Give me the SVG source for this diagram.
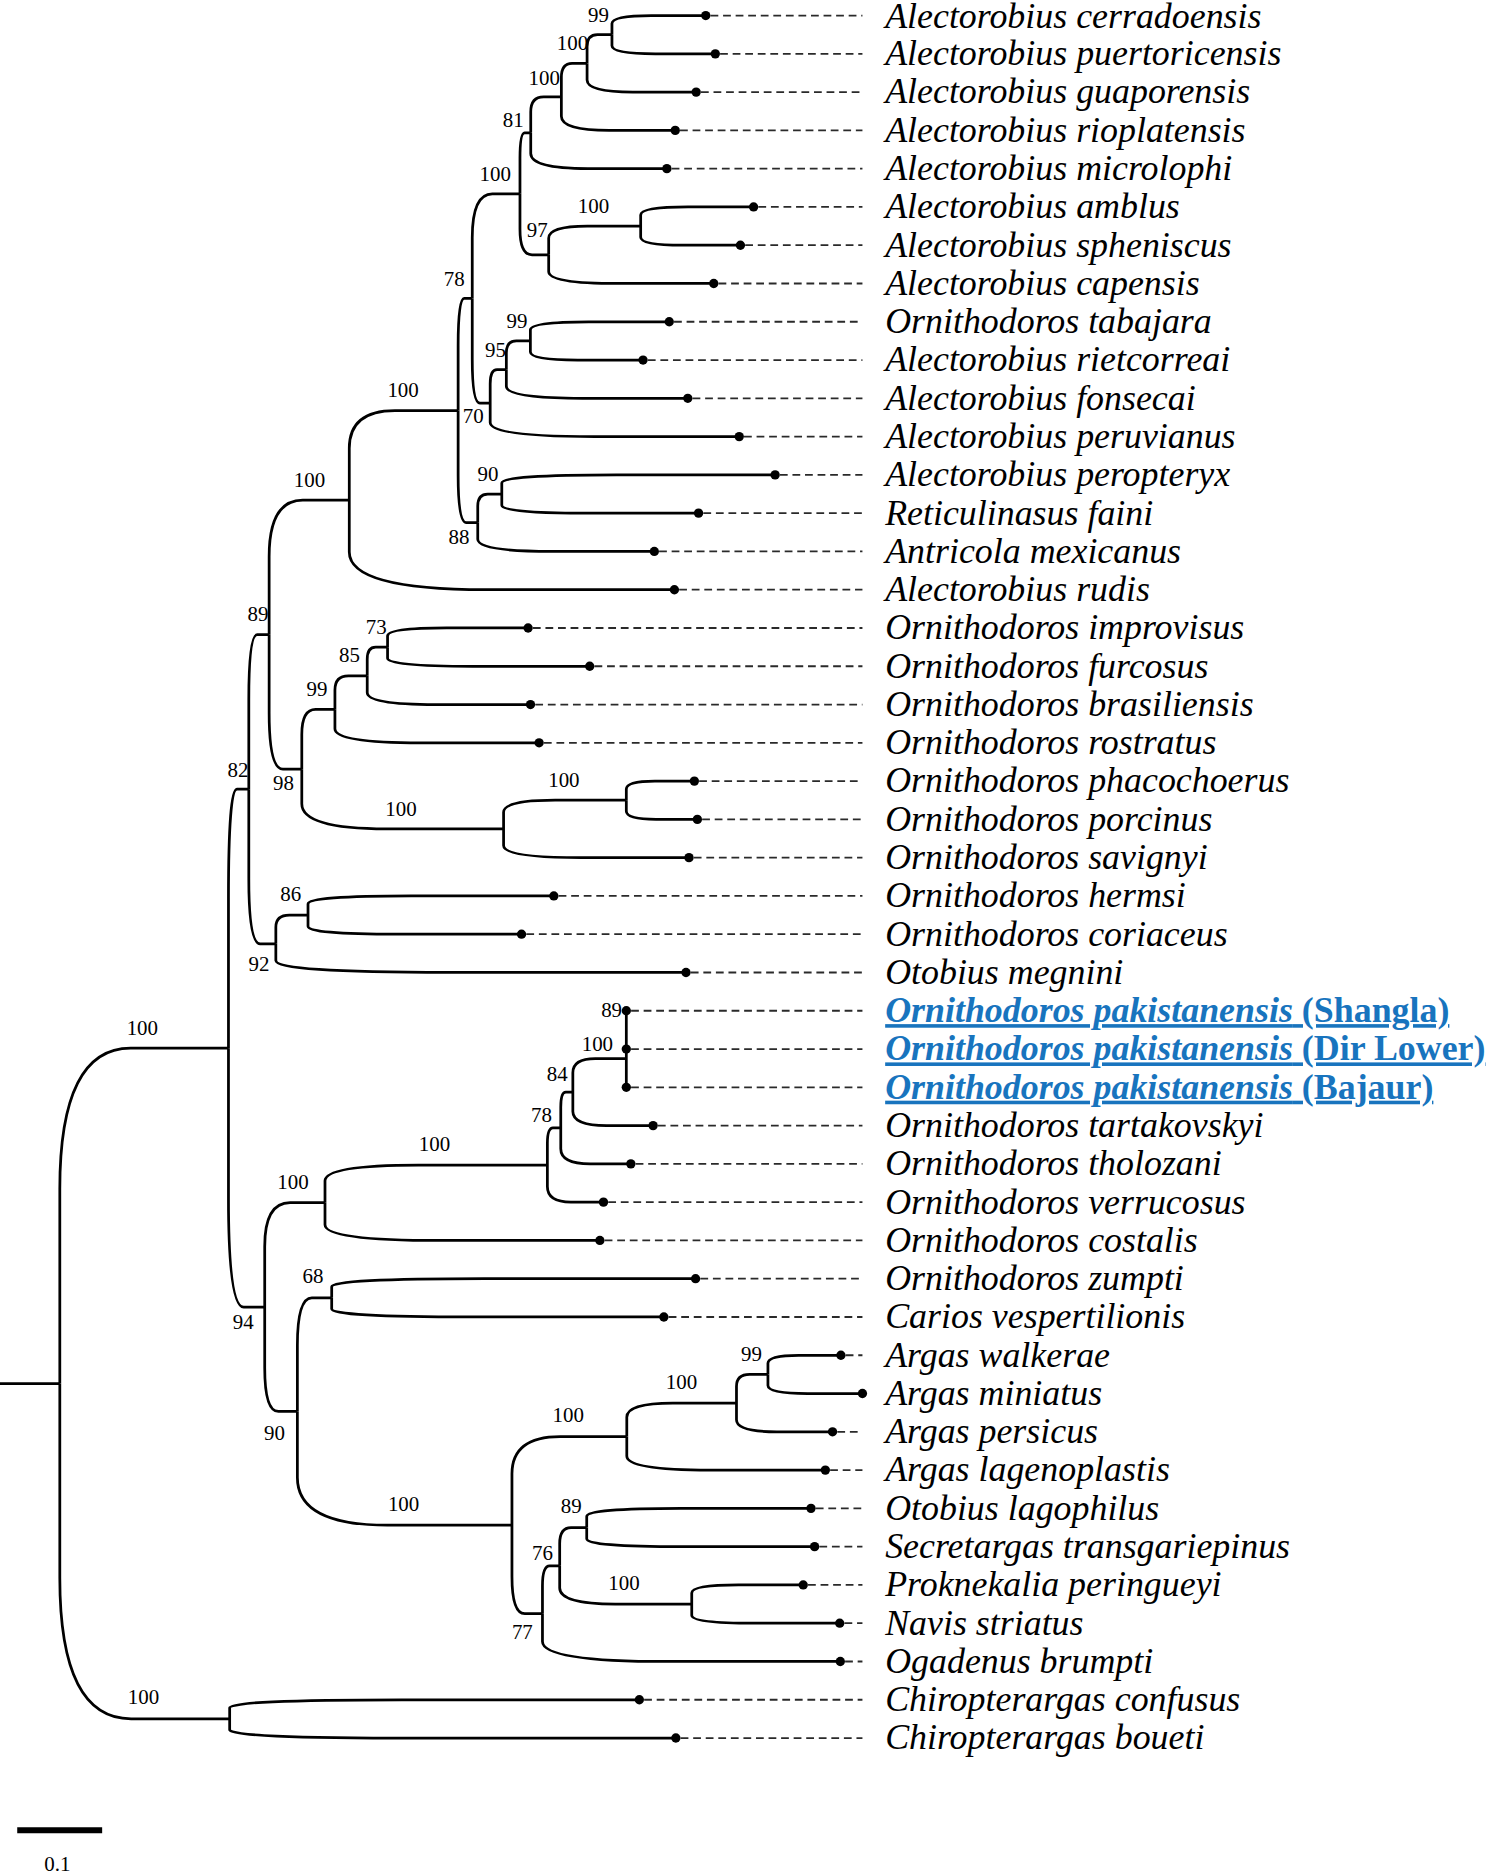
<svg xmlns="http://www.w3.org/2000/svg" width="1500" height="1874" viewBox="0 0 1500 1874">
<style>
.br{fill:none;stroke:#000;stroke-width:2.3;stroke-linecap:butt}
.dl{fill:none;stroke:#2a2a2a;stroke-width:1.5;stroke-dasharray:6.5 4}
.tip{fill:#000}
.lab{font-family:"Liberation Serif","Times New Roman",serif;font-style:italic;font-size:30px;fill:#000}
.pak{font-weight:bold;fill:#1874be;text-decoration:underline}
.up{font-style:normal}
.sup{font-family:"Liberation Serif","Times New Roman",serif;font-size:17.5px;text-anchor:middle;fill:#000}
</style>
<rect width="1500" height="1874" fill="#fff"/>
<g transform="scale(1.19617)">
<g id="branches" class="br">
<path d="M0 1156.65H50"/>
<path d="M50 1156.65V994Q50 876.3 109.2 876.3H191"/>
<path d="M50 1156.65V1319.3Q50 1437 109.6 1437H192"/>
<path d="M191 876.3V750.7Q191 659.8 198.1 659.8H208"/>
<path d="M191 876.3V1001.8Q191 1092.75 203.7 1092.75H221.3"/>
<path d="M192 1437V1427.7Q192 1421 335.9 1421H534.5"/>
<path d="M192 1437V1446.3Q192 1453 348.7 1453H565"/>
<path d="M208 659.8V584.8Q208 530.56 215.1 530.56H225"/>
<path d="M208 659.8V734.7Q208 789 217.5 789H230.6"/>
<path d="M225 530.56V465.3Q225 418.1 253.1 418.1H292"/>
<path d="M225 530.56V595.8Q225 643 236.5 643H252.3"/>
<path d="M292 418.1V374.7Q292 343.25 330.2 343.25H383"/>
<path d="M292 418.1V461.5Q292 493 406.2 493H563.8"/>
<path d="M383 343.25V288.9Q383 249.5 388 249.5H394.8"/>
<path d="M383 343.25V397.6Q383 437 389.9 437H399.4"/>
<path d="M394.8 249.5V198.8Q394.8 162 411.6 162H434.7"/>
<path d="M394.8 249.5V300.2Q394.8 337 401.1 337H409.8"/>
<path d="M434.7 162V132.4Q434.7 111 438.5 111H443.7"/>
<path d="M434.7 162V191.6Q434.7 213 444.8 213H458.7"/>
<path d="M443.7 111V93.6Q443.7 81 454.5 81H469.3"/>
<path d="M443.7 111V128.4Q443.7 141 491.5 141H557.5"/>
<path d="M469.3 81V64.8Q469.3 53 478.3 53H490.8"/>
<path d="M469.3 81V97.2Q469.3 109 509.3 109H564.5"/>
<path d="M490.8 53V39.1Q490.8 29 499.5 29H511.6"/>
<path d="M490.8 53V66.9Q490.8 77 529.1 77H582"/>
<path d="M511.6 29V19.7Q511.6 13 544.5 13H590"/>
<path d="M511.6 29V38.3Q511.6 45 547.9 45H598"/>
<path d="M458.7 213V199.1Q458.7 189 491 189H535.6"/>
<path d="M458.7 213V226.9Q458.7 237 516.7 237H596.7"/>
<path d="M535.6 189V179.7Q535.6 173 575.2 173H630"/>
<path d="M535.6 189V198.3Q535.6 205 570.6 205H619"/>
<path d="M409.8 337V320.8Q409.8 309 415.5 309H423.3"/>
<path d="M409.8 337V353.2Q409.8 365 497.2 365H618"/>
<path d="M423.3 309V295.1Q423.3 285 431.7 285H443.4"/>
<path d="M423.3 309V322.9Q423.3 333 487 333H575"/>
<path d="M443.4 285V275.7Q443.4 269 492.2 269H559.5"/>
<path d="M443.4 285V294.3Q443.4 301 483 301H537.6"/>
<path d="M399.4 437V423.1Q399.4 413 407.8 413H419.5"/>
<path d="M399.4 437V450.9Q399.4 461 461.4 461H547"/>
<path d="M419.5 413V403.7Q419.5 397 515.5 397H648"/>
<path d="M419.5 413V422.3Q419.5 429 488.6 429H584"/>
<path d="M252.3 643V614Q252.3 593 263.9 593H280"/>
<path d="M252.3 643V672Q252.3 693 323.2 693H421"/>
<path d="M280 593V576.8Q280 565 291.3 565H307"/>
<path d="M280 593V609.2Q280 621 351.7 621H450.7"/>
<path d="M307 565V551.1Q307 541 314.1 541H324"/>
<path d="M307 565V578.9Q307 589 364.3 589H443.5"/>
<path d="M324 541V531.7Q324 525 373.4 525H441.5"/>
<path d="M324 541V550.3Q324 557 395 557H493"/>
<path d="M421 693V679.1Q421 669 464.1 669H523.6"/>
<path d="M421 693V706.9Q421 717 486.1 717H576"/>
<path d="M523.6 669V659.7Q523.6 653 547.5 653H580.5"/>
<path d="M523.6 669V678.3Q523.6 685 548.5 685H583"/>
<path d="M230.6 789V775.1Q230.6 765 241.9 765H257.5"/>
<path d="M230.6 789V802.9Q230.6 813 374.6 813H573.5"/>
<path d="M257.5 765V755.7Q257.5 749 343.8 749H463"/>
<path d="M257.5 765V774.3Q257.5 781 332.5 781H436"/>
<path d="M221.3 1092.75V1042.1Q221.3 1005.5 242.5 1005.5H271.7"/>
<path d="M221.3 1092.75V1143.4Q221.3 1180 232.8 1180H248.6"/>
<path d="M271.7 1005.5V987.2Q271.7 974 349.8 974H457.6"/>
<path d="M271.7 1005.5V1023.8Q271.7 1037 368.2 1037H501.5"/>
<path d="M457.6 974V956Q457.6 943 462.3 943H468.8"/>
<path d="M457.6 974V992Q457.6 1005 477.3 1005H504.5"/>
<path d="M468.8 943V925.6Q468.8 913 473 913H478.9"/>
<path d="M468.8 943V960.4Q468.8 973 493.4 973H527.4"/>
<path d="M478.9 913V896.8Q478.9 885 497.7 885H523.6"/>
<path d="M478.9 913V929.2Q478.9 941 507.1 941H546"/>
<path d="M523.6 845V909"/>
<path d="M248.6 1180V1124.9Q248.6 1085 260.7 1085H277.3"/>
<path d="M248.6 1180V1235.1Q248.6 1275 323.9 1275H428"/>
<path d="M277.3 1085V1075.7Q277.3 1069 405.1 1069H581.5"/>
<path d="M277.3 1085V1094.3Q277.3 1101 393.9 1101H555"/>
<path d="M428 1275V1232.1Q428 1201 468.3 1201H524"/>
<path d="M428 1275V1317.9Q428 1349 438.7 1349H453.5"/>
<path d="M524 1201V1184.8Q524 1173 562.5 1173H615.7"/>
<path d="M524 1201V1217.2Q524 1229 593.7 1229H690"/>
<path d="M615.7 1173V1159.1Q615.7 1149 626.7 1149H642"/>
<path d="M615.7 1173V1186.9Q615.7 1197 649.4 1197H696"/>
<path d="M642 1149V1139.7Q642 1133 667.6 1133H703"/>
<path d="M642 1149V1158.3Q642 1165 675.2 1165H721"/>
<path d="M453.5 1349V1325.8Q453.5 1309 459.5 1309H467.9"/>
<path d="M453.5 1349V1372.2Q453.5 1389 558.1 1389H702.5"/>
<path d="M467.9 1309V1290.4Q467.9 1277 477.4 1277H490.5"/>
<path d="M467.9 1309V1327.6Q467.9 1341 514.3 1341H578.3"/>
<path d="M490.5 1277V1267.7Q490.5 1261 569.3 1261H678"/>
<path d="M490.5 1277V1286.3Q490.5 1293 570.5 1293H681"/>
<path d="M578.3 1341V1331.7Q578.3 1325 617.4 1325H671.5"/>
<path d="M578.3 1341V1350.3Q578.3 1357 630.3 1357H702"/>
</g>
<g id="guides" class="dl">
<path d="M594 13H721M602 45H721M586 77H721M568.5 109H721M561.5 141H721M634 173H721M623 205H721M600.7 237H721M563.5 269H721M541.6 301H721M579 333H721M622 365H721M652 397H721M588 429H721M551 461H721M567.8 493H721"/>
<path d="M445.5 525H721M497 557H721M447.5 589H721M454.7 621H721M584.5 653H721M587 685H721M580 717H721M467 749H721M440 781H721M577.5 813H721"/>
<path d="M527.6 845H721M527.6 877H721M527.6 909H721M550 941H721M531.4 973H721M508.5 1005H721M505.5 1037H721M585.5 1069H721M559 1101H721"/>
<path d="M707 1133H721M700 1197H721M694 1229H721M682 1261H721M685 1293H721M675.5 1325H721M706 1357H721M706.5 1389H721M538.5 1421H721M569 1453H721"/>
</g>
<g id="support-labels" class="sup">
<text x="500.4" y="18.5">99</text>
<text x="478.6" y="42.2">100</text>
<text x="455" y="70.7">100</text>
<text x="429" y="106.3">81</text>
<text x="414" y="150.9">100</text>
<text x="496.2" y="178">100</text>
<text x="449.2" y="198.3">97</text>
<text x="379.8" y="238.7">78</text>
<text x="432.2" y="274.1">99</text>
<text x="414.3" y="298.6">95</text>
<text x="337" y="332">100</text>
<text x="395.6" y="353.8">70</text>
<text x="408" y="401.7">90</text>
<text x="258.7" y="407.3">100</text>
<text x="383.7" y="454.7">88</text>
<text x="215.7" y="519.4">89</text>
<text x="314.6" y="530">73</text>
<text x="292.2" y="553.6">85</text>
<text x="265" y="581.5">99</text>
<text x="199" y="649.2">82</text>
<text x="237" y="660.4">98</text>
<text x="471.4" y="658.2">100</text>
<text x="335.2" y="681.8">100</text>
<text x="243" y="753.5">86</text>
<text x="216.5" y="811.4">92</text>
<text x="511.3" y="850.5">89</text>
<text x="119" y="865">100</text>
<text x="499.4" y="878.3">100</text>
<text x="465.8" y="903.4">84</text>
<text x="452.7" y="938.3">78</text>
<text x="363.2" y="962.5">100</text>
<text x="244.9" y="994">100</text>
<text x="261.7" y="1072.9">68</text>
<text x="203.4" y="1111">94</text>
<text x="628.2" y="1137.5">99</text>
<text x="569.7" y="1161.2">100</text>
<text x="475.1" y="1189">100</text>
<text x="229.4" y="1203.8">90</text>
<text x="337.4" y="1262.9">100</text>
<text x="477.5" y="1264.8">89</text>
<text x="453.5" y="1304">76</text>
<text x="521.7" y="1328.9">100</text>
<text x="436.7" y="1370.1">77</text>
<text x="120" y="1424.5">100</text>
</g>
<g id="leaves">
<g id="leaf-01"><circle class="tip" cx="590" cy="13" r="3.9"/><text class="lab" x="740" y="23">Alectorobius cerradoensis</text></g>
<g id="leaf-02"><circle class="tip" cx="598" cy="45" r="3.9"/><text class="lab" x="740" y="54.5">Alectorobius puertoricensis</text></g>
<g id="leaf-03"><circle class="tip" cx="582" cy="77" r="3.9"/><text class="lab" x="740" y="86.5">Alectorobius guaporensis</text></g>
<g id="leaf-04"><circle class="tip" cx="564.5" cy="109" r="3.9"/><text class="lab" x="740" y="118.5">Alectorobius rioplatensis</text></g>
<g id="leaf-05"><circle class="tip" cx="557.5" cy="141" r="3.9"/><text class="lab" x="740" y="150.5">Alectorobius microlophi</text></g>
<g id="leaf-06"><circle class="tip" cx="630" cy="173" r="3.9"/><text class="lab" x="740" y="182.5">Alectorobius amblus</text></g>
<g id="leaf-07"><circle class="tip" cx="619" cy="205" r="3.9"/><text class="lab" x="740" y="214.5">Alectorobius spheniscus</text></g>
<g id="leaf-08"><circle class="tip" cx="596.7" cy="237" r="3.9"/><text class="lab" x="740" y="246.5">Alectorobius capensis</text></g>
<g id="leaf-09"><circle class="tip" cx="559.5" cy="269" r="3.9"/><text class="lab" x="740" y="278.5">Ornithodoros tabajara</text></g>
<g id="leaf-10"><circle class="tip" cx="537.6" cy="301" r="3.9"/><text class="lab" x="740" y="310.5">Alectorobius rietcorreai</text></g>
<g id="leaf-11"><circle class="tip" cx="575" cy="333" r="3.9"/><text class="lab" x="740" y="342.5">Alectorobius fonsecai</text></g>
<g id="leaf-12"><circle class="tip" cx="618" cy="365" r="3.9"/><text class="lab" x="740" y="374.5">Alectorobius peruvianus</text></g>
<g id="leaf-13"><circle class="tip" cx="648" cy="397" r="3.9"/><text class="lab" x="740" y="406.5">Alectorobius peropteryx</text></g>
<g id="leaf-14"><circle class="tip" cx="584" cy="429" r="3.9"/><text class="lab" x="740" y="438.5">Reticulinasus faini</text></g>
<g id="leaf-15"><circle class="tip" cx="547" cy="461" r="3.9"/><text class="lab" x="740" y="470.5">Antricola mexicanus</text></g>
<g id="leaf-16"><circle class="tip" cx="563.8" cy="493" r="3.9"/><text class="lab" x="740" y="502.5">Alectorobius rudis</text></g>
<g id="leaf-17"><circle class="tip" cx="441.5" cy="525" r="3.9"/><text class="lab" x="740" y="534.5">Ornithodoros improvisus</text></g>
<g id="leaf-18"><circle class="tip" cx="493" cy="557" r="3.9"/><text class="lab" x="740" y="566.5">Ornithodoros furcosus</text></g>
<g id="leaf-19"><circle class="tip" cx="443.5" cy="589" r="3.9"/><text class="lab" x="740" y="598.5">Ornithodoros brasiliensis</text></g>
<g id="leaf-20"><circle class="tip" cx="450.7" cy="621" r="3.9"/><text class="lab" x="740" y="630.5">Ornithodoros rostratus</text></g>
<g id="leaf-21"><circle class="tip" cx="580.5" cy="653" r="3.9"/><text class="lab" x="740" y="662.5">Ornithodoros phacochoerus</text></g>
<g id="leaf-22"><circle class="tip" cx="583" cy="685" r="3.9"/><text class="lab" x="740" y="694.5">Ornithodoros porcinus</text></g>
<g id="leaf-23"><circle class="tip" cx="576" cy="717" r="3.9"/><text class="lab" x="740" y="726.5">Ornithodoros savignyi</text></g>
<g id="leaf-24"><circle class="tip" cx="463" cy="749" r="3.9"/><text class="lab" x="740" y="758.5">Ornithodoros hermsi</text></g>
<g id="leaf-25"><circle class="tip" cx="436" cy="781" r="3.9"/><text class="lab" x="740" y="790.5">Ornithodoros coriaceus</text></g>
<g id="leaf-26"><circle class="tip" cx="573.5" cy="813" r="3.9"/><text class="lab" x="740" y="822.5">Otobius megnini</text></g>
<g id="leaf-27"><circle class="tip" cx="523.6" cy="845" r="3.9"/><text class="lab pak" x="740" y="854.5">Ornithodoros pakistanensis<tspan class="up"> (Shangla)</tspan></text></g>
<g id="leaf-28"><circle class="tip" cx="523.6" cy="877" r="3.9"/><text class="lab pak" x="740" y="886.5">Ornithodoros pakistanensis<tspan class="up"> (Dir Lower)</tspan></text></g>
<g id="leaf-29"><circle class="tip" cx="523.6" cy="909" r="3.9"/><text class="lab pak" x="740" y="918.5">Ornithodoros pakistanensis<tspan class="up"> (Bajaur)</tspan></text></g>
<g id="leaf-30"><circle class="tip" cx="546" cy="941" r="3.9"/><text class="lab" x="740" y="950.5">Ornithodoros tartakovskyi</text></g>
<g id="leaf-31"><circle class="tip" cx="527.4" cy="973" r="3.9"/><text class="lab" x="740" y="982.5">Ornithodoros tholozani</text></g>
<g id="leaf-32"><circle class="tip" cx="504.5" cy="1005" r="3.9"/><text class="lab" x="740" y="1014.5">Ornithodoros verrucosus</text></g>
<g id="leaf-33"><circle class="tip" cx="501.5" cy="1037" r="3.9"/><text class="lab" x="740" y="1046.5">Ornithodoros costalis</text></g>
<g id="leaf-34"><circle class="tip" cx="581.5" cy="1069" r="3.9"/><text class="lab" x="740" y="1078.5">Ornithodoros zumpti</text></g>
<g id="leaf-35"><circle class="tip" cx="555" cy="1101" r="3.9"/><text class="lab" x="740" y="1110.5">Carios vespertilionis</text></g>
<g id="leaf-36"><circle class="tip" cx="703" cy="1133" r="3.9"/><text class="lab" x="740" y="1142.5">Argas walkerae</text></g>
<g id="leaf-37"><circle class="tip" cx="721" cy="1165" r="3.9"/><text class="lab" x="740" y="1174.5">Argas miniatus</text></g>
<g id="leaf-38"><circle class="tip" cx="696" cy="1197" r="3.9"/><text class="lab" x="740" y="1206.5">Argas persicus</text></g>
<g id="leaf-39"><circle class="tip" cx="690" cy="1229" r="3.9"/><text class="lab" x="740" y="1238.5">Argas lagenoplastis</text></g>
<g id="leaf-40"><circle class="tip" cx="678" cy="1261" r="3.9"/><text class="lab" x="740" y="1270.5">Otobius lagophilus</text></g>
<g id="leaf-41"><circle class="tip" cx="681" cy="1293" r="3.9"/><text class="lab" x="740" y="1302.5">Secretargas transgariepinus</text></g>
<g id="leaf-42"><circle class="tip" cx="671.5" cy="1325" r="3.9"/><text class="lab" x="740" y="1334.5">Proknekalia peringueyi</text></g>
<g id="leaf-43"><circle class="tip" cx="702" cy="1357" r="3.9"/><text class="lab" x="740" y="1366.5">Navis striatus</text></g>
<g id="leaf-44"><circle class="tip" cx="702.5" cy="1389" r="3.9"/><text class="lab" x="740" y="1398.5">Ogadenus brumpti</text></g>
<g id="leaf-45"><circle class="tip" cx="534.5" cy="1421" r="3.9"/><text class="lab" x="740" y="1430.5">Chiropterargas confusus</text></g>
<g id="leaf-46"><circle class="tip" cx="565" cy="1453" r="3.9"/><text class="lab" x="740" y="1462.5">Chiropterargas boueti</text></g>
</g>
<g id="scale-bar">
<path d="M14.4 1530H85.4" stroke="#000" stroke-width="5" fill="none"/>
<text class="sup" x="48" y="1564">0.1</text>
</g>
</g>
</svg>
